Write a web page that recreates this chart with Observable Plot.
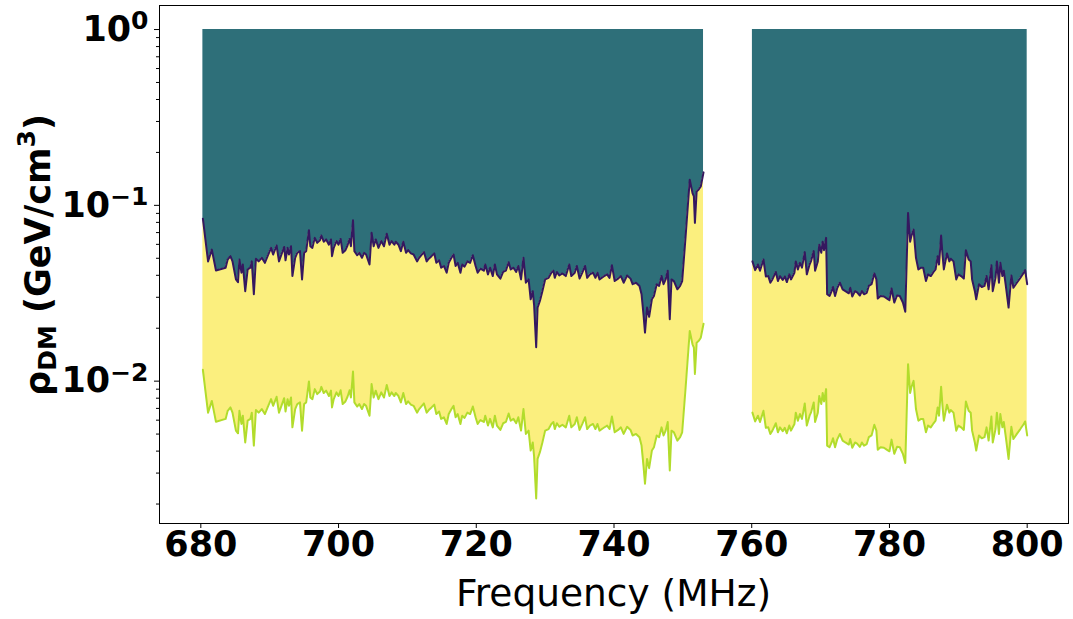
<!DOCTYPE html>
<html><head><meta charset="utf-8">
<script src="https://cdn.jsdelivr.net/npm/d3@7"></script>
<script src="https://cdn.jsdelivr.net/npm/@observablehq/plot@0.6"></script>
<style>
html,body{margin:0;padding:0;background:#fff;}
</style></head><body><div id="chart"></div>
<script>
// Frequency (MHz), left band
const freqLeft = [
680.3,681.05,681.6,682.2,683.6,683.9,684.3,684.6,685.1,685.4,
685.6,685.9,686.1,686.45,686.8,687.2,687.4,687.7,688.0,688.4,
688.85,689.3,689.7,690.2,690.5,691.0,691.35,691.7,692.1,692.3,
692.6,692.8,693.1,693.3,693.7,694.0,694.4,694.7,695.0,695.3,
695.7,695.9,696.2,696.55,696.9,697.3,697.5,697.85,698.2,698.6,
698.9,699.05,699.3,699.7,700.0,700.3,700.6,701.0,701.3,701.6,
701.8,702.1,702.3,702.7,703.0,703.4,703.7,704.0,704.5,704.8,
705.1,705.4,705.8,706.2,706.6,707.0,707.4,707.7,708.1,708.3,
708.7,709.05,709.4,709.8,710.1,710.5,710.9,711.4,711.7,712.0,
712.4,712.8,713.1,713.5,713.9,714.2,714.6,714.9,715.3,715.7,
716.0,716.4,716.7,717.0,717.3,717.7,717.95,718.3,718.7,719.1,
719.5,719.9,720.2,720.6,721.1,721.3,721.7,722.0,722.4,722.7,
723.0,723.5,723.9,724.3,724.7,725.0,725.4,725.8,726.1,726.5,
726.85,727.2,727.6,727.9,728.2,728.4,728.7,728.9,729.25,729.6,
730.0,730.5,730.9,731.2,731.4,731.7,732.05,732.5,733.0,733.5,
733.8,734.3,734.6,735.0,735.4,735.8,736.1,736.5,736.95,737.3,
737.6,737.9,738.5,739.0,739.35,739.7,740.1,740.6,741.0,741.4,
741.9,742.4,742.7,743.2,743.7,744.0,744.3,744.5,744.8,745.1,
745.5,745.8,746.2,746.55,746.9,747.2,747.5,747.8,748.1,748.35,
748.7,749.2,749.6,749.9,750.4,751.0,751.4,751.6,751.75,752.0,
752.3,752.6,753.0];
// upper limit (GeV/cm^3), left band
const upperLeft = [
0.084,0.048,0.056,0.0426,0.0442,0.0492,0.0514,0.048,0.0379,0.0366,
0.0492,0.0414,0.0461,0.0325,0.0432,0.0442,0.048,0.0312,0.0497,0.048,
0.0503,0.0471,0.0514,0.0573,0.0525,0.0591,0.048,0.0525,0.058,0.0487,
0.0573,0.0525,0.0585,0.0396,0.0503,0.0537,0.0549,0.0379,0.0537,0.0549,
0.0722,0.0585,0.0573,0.0653,0.0612,0.0633,0.0673,0.0621,0.064,0.0597,
0.064,0.0514,0.0573,0.0626,0.0597,0.0644,0.0537,0.0556,0.0591,0.0644,
0.0585,0.0822,0.0549,0.052,0.0537,0.0503,0.0537,0.0525,0.0461,0.0698,
0.0585,0.064,0.0573,0.0626,0.0585,0.069,0.0597,0.0626,0.0597,0.0621,
0.0597,0.0549,0.0621,0.0537,0.0556,0.0533,0.0525,0.048,0.0503,0.052,
0.0542,0.048,0.0497,0.0514,0.0533,0.0471,0.0487,0.0442,0.0452,0.0414,
0.0471,0.0503,0.0525,0.0452,0.0471,0.0414,0.0461,0.0448,0.048,0.0471,
0.052,0.0452,0.0414,0.0436,0.0425,0.0461,0.0405,0.0442,0.0396,0.0461,
0.0405,0.0383,0.0418,0.0425,0.0475,0.0432,0.0442,0.0418,0.0452,0.0379,
0.0503,0.0363,0.0379,0.0292,0.0325,0.027,0.0156,0.0262,0.0287,0.0325,
0.0379,0.0387,0.0414,0.0425,0.0387,0.0418,0.0399,0.041,0.0396,0.0461,
0.0396,0.0414,0.0452,0.0383,0.0414,0.0452,0.0387,0.0405,0.0414,0.0387,
0.0414,0.0379,0.0394,0.0405,0.0387,0.0456,0.0371,0.0383,0.0396,0.0363,
0.0399,0.0383,0.0356,0.0363,0.0348,0.0312,0.0235,0.0189,0.0262,0.0232,
0.0292,0.0305,0.0356,0.0348,0.0396,0.0356,0.0379,0.0425,0.0225,0.0379,
0.0371,0.0333,0.0348,0.0371,0.0667,0.14,0.1175,0.1125,0.0795,0.12,
0.123,0.128,0.154];
// lower limit (GeV/cm^3), left band
const lowerLeft = [
0.0116,0.00662,0.00772,0.00587,0.0061,0.00678,0.00709,0.00662,0.00523,0.00505,
0.00678,0.00571,0.00636,0.00448,0.00596,0.0061,0.00662,0.0043,0.00685,0.00662,
0.00694,0.0065,0.00709,0.0079,0.00724,0.00815,0.00662,0.00724,0.008,0.00672,
0.0079,0.00724,0.00807,0.00546,0.00694,0.00741,0.00757,0.00523,0.00741,0.00757,
0.00996,0.00807,0.0079,0.00901,0.00844,0.00873,0.00928,0.00856,0.00883,0.00823,
0.00883,0.00709,0.0079,0.00863,0.00823,0.00888,0.00741,0.00767,0.00815,0.00888,
0.00807,0.01134,0.00757,0.00717,0.00741,0.00694,0.00741,0.00724,0.00636,0.00963,
0.00807,0.00883,0.0079,0.00863,0.00807,0.00952,0.00823,0.00863,0.00823,0.00856,
0.00823,0.00757,0.00856,0.00741,0.00767,0.00735,0.00724,0.00662,0.00694,0.00717,
0.00747,0.00662,0.00685,0.00709,0.00735,0.0065,0.00672,0.0061,0.00623,0.00571,
0.0065,0.00694,0.00724,0.00623,0.0065,0.00571,0.00636,0.00618,0.00662,0.0065,
0.00717,0.00623,0.00571,0.00601,0.00586,0.00636,0.00559,0.0061,0.00546,0.00636,
0.00559,0.00528,0.00576,0.00586,0.00655,0.00596,0.0061,0.00576,0.00623,0.00523,
0.00694,0.00501,0.00523,0.00403,0.00448,0.00372,0.00215,0.00361,0.00396,0.00448,
0.00523,0.00534,0.00571,0.00586,0.00534,0.00576,0.0055,0.00565,0.00546,0.00636,
0.00546,0.00571,0.00623,0.00528,0.00571,0.00623,0.00534,0.00559,0.00571,0.00534,
0.00571,0.00523,0.00543,0.00559,0.00534,0.00629,0.00512,0.00528,0.00546,0.00501,
0.0055,0.00528,0.00491,0.00501,0.0048,0.0043,0.00324,0.00261,0.00361,0.0032,
0.00403,0.00421,0.00491,0.0048,0.00546,0.00491,0.00523,0.00586,0.0031,0.00523,
0.00512,0.00459,0.0048,0.00512,0.0092,0.0193,0.0162,0.0155,0.011,0.01655,
0.01696,0.01765,0.0212];

// Frequency (MHz), right band
const freqRight = [
760.1,760.5,760.9,761.2,761.7,762.05,762.4,762.7,763.0,763.5,
763.8,764.1,764.5,764.8,765.1,765.45,765.7,766.2,766.4,766.7,
767.0,767.3,767.7,768.0,768.4,768.6,769.0,769.2,769.6,769.8,
770.1,770.3,770.5,770.8,770.95,771.3,771.6,771.8,772.1,772.4,
772.8,773.2,773.6,774.1,774.3,774.6,775.0,775.3,775.7,776.0,
776.3,776.7,777.0,777.4,777.8,778.1,778.3,778.7,779.2,779.6,
780.0,780.3,780.7,781.1,781.5,781.95,782.3,782.7,783.0,783.2,
783.5,783.85,784.2,784.6,784.9,785.3,785.6,786.0,786.4,786.7,
787.0,787.2,787.5,787.7,787.9,788.35,788.7,788.9,789.3,789.7,
790.0,790.4,790.8,791.1,791.5,791.8,792.0,792.4,792.6,793.0,
793.4,793.8,794.1,794.4,794.8,795.0,795.4,795.6,795.9,796.1,
796.4,796.6,796.9,797.3,797.7,798.0,798.5,799.0,799.5,799.7,
800.0];
const upperRight = [
0.048,0.0428,0.0461,0.0425,0.0492,0.0394,0.0396,0.0363,0.0379,0.0418,
0.0371,0.0396,0.0376,0.0394,0.0366,0.0405,0.0379,0.0414,0.048,0.0432,
0.0471,0.0442,0.0542,0.0405,0.0461,0.048,0.0549,0.0425,0.048,0.0597,
0.0537,0.0621,0.0556,0.0653,0.0312,0.0305,0.0325,0.0343,0.0305,0.0337,
0.0363,0.0333,0.0325,0.0316,0.034,0.0303,0.0325,0.032,0.0307,0.0325,
0.0312,0.0318,0.0348,0.0356,0.041,0.0379,0.0295,0.0305,0.0303,0.0296,
0.0289,0.0337,0.028,0.0307,0.0305,0.028,0.0248,0.0906,0.0621,0.0673,
0.0728,0.0503,0.0432,0.0442,0.0442,0.0371,0.0405,0.0396,0.0418,0.0432,
0.0514,0.0461,0.0673,0.0525,0.0432,0.0533,0.048,0.0497,0.048,0.0379,
0.0405,0.0396,0.0383,0.0556,0.0492,0.048,0.0379,0.0325,0.0292,0.0356,
0.0343,0.0348,0.0396,0.0333,0.0456,0.0325,0.0387,0.048,0.0363,0.0471,
0.0396,0.0425,0.0348,0.0262,0.0399,0.034,0.0363,0.0387,0.0414,0.0428,
0.0356];
const lowerRight = [
0.00662,0.0059,0.00636,0.00586,0.00678,0.00543,0.00546,0.00501,0.00523,0.00576,
0.00512,0.00546,0.00519,0.00543,0.00505,0.00559,0.00523,0.00571,0.00662,0.00596,
0.0065,0.0061,0.00747,0.00559,0.00636,0.00662,0.00757,0.00586,0.00662,0.00823,
0.00741,0.00856,0.00767,0.00901,0.0043,0.00421,0.00448,0.00473,0.00421,0.00465,
0.00501,0.00459,0.00448,0.00436,0.00469,0.00418,0.00448,0.00441,0.00423,0.00448,
0.0043,0.00439,0.0048,0.00491,0.00565,0.00523,0.00407,0.00421,0.00418,0.00408,
0.00399,0.00465,0.00386,0.00423,0.00421,0.00386,0.00342,0.01249,0.00856,0.00928,
0.01004,0.00694,0.00596,0.0061,0.0061,0.00512,0.00559,0.00546,0.00576,0.00596,
0.00709,0.00636,0.00928,0.00724,0.00596,0.00735,0.00662,0.00685,0.00662,0.00523,
0.00559,0.00546,0.00528,0.00767,0.00678,0.00662,0.00523,0.00448,0.00403,0.00491,
0.00473,0.0048,0.00546,0.00459,0.00629,0.00448,0.00534,0.00662,0.00501,0.0065,
0.00546,0.00586,0.0048,0.00361,0.0055,0.00469,0.00501,0.00534,0.00571,0.0059,
0.00491];

const ceiling = 1.0;                       // top of excluded region
const xTicks = [680, 700, 720, 740, 760, 780, 800];
const yTicks = [1, 0.1, 0.01];
const yTickExp = ["0", "\u22121", "\u22122"];
const yMinor = [0.002,0.003,0.004,0.005,0.006,0.007,0.008,0.009,
                0.02,0.03,0.04,0.05,0.06,0.07,0.08,0.09,
                0.2,0.3,0.4,0.5,0.6,0.7,0.8,0.9];

const rows = [];
function addBand(seg, f, u, l) {
  f.forEach((x, i) => rows.push({seg, freq: x, upper: u[i], lower: l[i], top: ceiling}));
}
addBand("A", freqLeft, upperLeft, lowerLeft);
addBand("B", freqRight, upperRight, lowerRight);

const FONT = "'DejaVu Sans', sans-serif";

const chart = Plot.plot({
  width: 1073,
  height: 619,
  marginLeft: 159,
  marginRight: 5,
  marginTop: 5,
  marginBottom: 96,
  style: {fontFamily: FONT, background: "#fff", overflow: "visible", color: "#000"},
  x: {domain: [674, 806]},
  y: {type: "log", domain: [0.00155, 1.37]},
  marks: [
    Plot.areaY(rows, {x: "freq", y1: "upper", y2: "top", z: "seg", fill: "#2e6f79"}),
    Plot.areaY(rows, {x: "freq", y1: "lower", y2: "upper", z: "seg", fill: "#fbef7e"}),
    Plot.lineY(rows, {x: "freq", y: "upper", z: "seg", stroke: "#35185f", strokeWidth: 2}),
    Plot.lineY(rows, {x: "freq", y: "lower", z: "seg", stroke: "#b2dc2c", strokeWidth: 2}),
    Plot.frame({stroke: "#000", strokeWidth: 1}),
    Plot.axisX({ticks: xTicks, tickSize: 5, tickPadding: 3, fontSize: 35, fontWeight: "bold",
                tickFormat: d => String(d), label: null}),
    Plot.axisY({ticks: yMinor, tickSize: 3, tickFormat: () => "", label: null}),
    Plot.axisY({ticks: yTicks, tickSize: 5, tickPadding: 6, fontSize: 35, fontWeight: "bold",
                tickFormat: d => "10^" + yTickExp[yTicks.indexOf(d)], label: null})
  ]
});

document.getElementById("chart").appendChild(chart);

const svg = d3.select(chart);
// rebuild power-of-ten labels with real superscripts
svg.selectAll("text").each(function() {
  const t = this.textContent;
  if (t && t.startsWith("10^")) {
    const exp = t.slice(3);
    const el = d3.select(this);
    el.text(null).attr("font-weight", "bold");
    el.append("tspan").text("10");
    el.append("tspan").attr("font-size", 25).attr("dy", "-0.45em").text(exp);
  }
});
svg.selectAll("g[aria-label='x-axis tick label'] text").attr("font-weight", "bold");

// x-axis title
svg.append("text")
  .attr("x", (159 + 1068) / 2).attr("y", 606)
  .attr("text-anchor", "middle")
  .attr("font-family", FONT).attr("font-size", 37.5)
  .attr("fill", "#000")
  .text("Frequency (MHz)");

// y-axis title: ρ_DM (GeV/cm³)
const yl = svg.append("text")
  .attr("transform", "translate(50,255) rotate(-90)")
  .attr("text-anchor", "middle")
  .attr("font-family", FONT).attr("font-size", 35).attr("font-weight", "bold")
  .attr("fill", "#000");
yl.append("tspan").text("\u03C1");
yl.append("tspan").attr("font-size", 25).attr("dy", 6).text("DM");
yl.append("tspan").attr("dy", -6).text(" (GeV/cm");
yl.append("tspan").attr("font-size", 25).attr("dy", -15).text("3");
yl.append("tspan").attr("dy", 15).text(")");
</script>
</body></html>
